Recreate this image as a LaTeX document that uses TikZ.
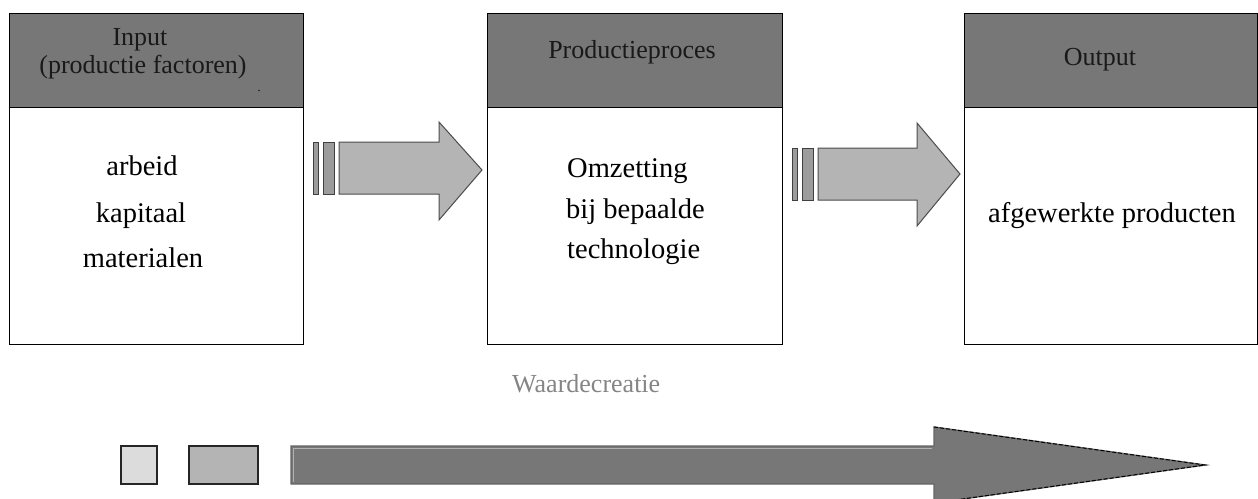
\documentclass[tikz,border=0pt]{standalone}
\usepackage{fontspec}
\setmainfont{Liberation Serif}
\begin{document}
\begin{tikzpicture}[x=1pt,y=-1pt,
  frame/.style={draw=black,line width=1.2pt,fill=white,inner sep=0pt,anchor=north west},
  headbar/.style={draw=black,line width=1.2pt,fill=headgray,inner sep=0pt,anchor=north west},
  headtxt/.style={font=\fontsize{26}{30}\selectfont,text=black!90,inner sep=0pt,anchor=base},
  bodytxt/.style={font=\fontsize{28.5}{32}\selectfont,inner sep=0pt,anchor=base},
  blockarrow/.style={draw=black!70,line width=1pt,fill=arrowgray,line join=miter},
  barstyle/.style={draw=black!75,line width=1pt,fill=bargray}]
\definecolor{headgray}{HTML}{777777}
\definecolor{arrowgray}{HTML}{B4B4B4}
\definecolor{bargray}{HTML}{9C9C9C}
\definecolor{bigarrow}{HTML}{777777}
\definecolor{lightsq}{HTML}{DCDCDC}
\definecolor{midsq}{HTML}{B4B4B4}
\useasboundingbox[fill=white] (0,0) rectangle (1258,498);

% the three stage boxes with their dark header bars
\node[frame,minimum width=294pt,minimum height=331pt] (inbox) at (9,13) {};
\node[headbar,minimum width=294pt,minimum height=94pt] (inhead) at (9,13) {};
\node[frame,minimum width=295pt,minimum height=331pt] (procbox) at (487,13) {};
\node[headbar,minimum width=295pt,minimum height=94pt] (prochead) at (487,13) {};
\node[frame,minimum width=293pt,minimum height=331pt] (outbox) at (964,13) {};
\node[headbar,minimum width=293pt,minimum height=94pt] (outhead) at (964,13) {};

% header texts
\node[headtxt] (t1a) at (140,45) {Input};
\node[headtxt] (t1b) at (143,73) {(productie factoren)};
\node[font=\fontsize{12}{12}\selectfont,inner sep=0pt,anchor=base] (t1dot) at (259,91) {.};
\node[headtxt] (t2) at (632,58) {Productieproces};
\node[headtxt] (t3) at (1100,65) {Output};

% body texts
\node[bodytxt] (b1a) at (142,175) {arbeid};
\node[bodytxt] (b1b) at (141,222) {kapitaal};
\node[bodytxt] (b1c) at (143,267) {materialen};
\node[bodytxt,anchor=base west] (b2a) at (567,177) {Omzetting};
\node[bodytxt,anchor=base west] (b2b) at (566,218) {bij bepaalde};
\node[bodytxt,anchor=base west] (b2c) at (567,258) {technologie};
\node[bodytxt] (b3) at (1112,222) {afgewerkte producten};

% first block arrow with its two stripes
\draw[barstyle] (313,142) rectangle (318,194);
\draw[barstyle] (323,142) rectangle (334,194);
\draw[blockarrow] (339,142) -- (439,142) -- (439,122) -- (482,170) -- (439,220)
  -- (439,194) -- (339,194) -- cycle;

% second block arrow with its two stripes
\draw[barstyle] (792,148) rectangle (797,200);
\draw[barstyle] (802,148) rectangle (813,200);
\draw[blockarrow] (818,148) -- (917,148) -- (917,123) -- (960,174) -- (917,226)
  -- (917,200) -- (818,200) -- cycle;

% value creation arrow
\node[font=\fontsize{26}{30}\selectfont,text=black!48,inner sep=0pt,anchor=base west] (wc) at (512,392) {Waardecreatie};
\draw[draw=black!30,line width=1pt,fill=lightsq] (121,446) rectangle (157,484);
\draw[black!85,line width=1.4pt] (121,446) rectangle (157,484);
\draw[black!85,line width=1.4pt,fill=midsq] (189,446) rectangle (258,484);
\draw[draw=black!60,line width=1.4pt,fill=bigarrow] (291,446) -- (934,446) -- (934,427)
  -- (1205,465) -- (934,503) -- (934,484) -- (291,484) -- cycle;
\draw[white!70!black,line width=0.8pt] (293,482) -- (293,448) -- (932,448);
\draw[black,line width=1pt,dash pattern=on 4pt off 2pt] (934,427) -- (1205,465) -- (934,503);
\end{tikzpicture}
\end{document}
